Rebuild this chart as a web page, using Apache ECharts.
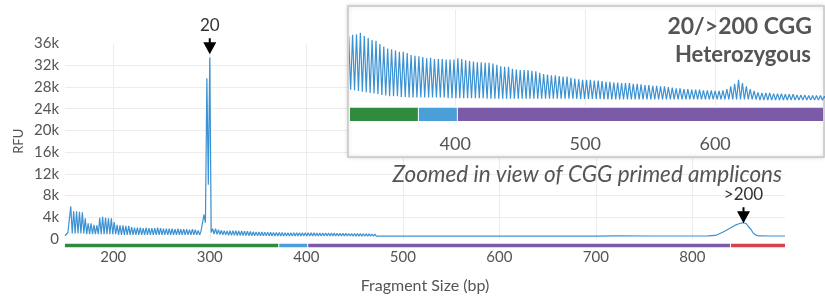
<!DOCTYPE html>
<html>
<head>
<meta charset="utf-8">
<script src="https://cdn.jsdelivr.net/npm/echarts@6/dist/echarts.min.js"></script>
<style>
  html, body { margin: 0; padding: 0; background: #fff; }
  #chart { width: 825px; height: 299px; }
</style>
</head>
<body>
<div id="chart"></div>
<script>
// CGG repeat ladder: one peak every 3 bp starting at 153 bp
var ladderStartBp = 153
var ladderStepBp = 3

// peak heights (RFU), one per repeat
var peakRfu = [
  1200, 6000, 5100, 5100, 5000, 4900, 3800, 2900, 2900, 2600, // 153-180
  2500, 3900, 4100, 3900, 3800, 3800, 3100, 2600, 2500, 2500, // 183-210
  2400, 2400, 2200, 2100, 2100, 2100, 2000, 2100, 2000, 2000, // 213-240
  2000, 2100, 2000, 1900, 1900, 1900, 1900, 1800, 1900, 1800, // 243-270
  1800, 1800, 1700, 1800, 1700, 1600, 1500, 4500, 29600, 33400, // 273-300
  1900, 1900, 1700, 1600, 1550, 1500, 1520, 1530, 1550, 1500, // 303-330
  1470, 1440, 1430, 1380, 1340, 1310, 1300, 1280, 1260, 1260, // 333-360
  1240, 1210, 1200, 1190, 1180, 1160, 1170, 1150, 1150, 1150, // 363-390
  1140, 1140, 1140, 1160, 1150, 1130, 1120, 1110, 1100, 1100, // 393-420
  1090, 1090, 1080, 1060, 1040, 1030, 1030, 1000, 990, 980,   // 423-450
  980, 980, 970, 960, 940, 920, 910, 900, 900, 890,           // 453-480
  880, 880, 860, 850, 840, 830, 830, 830, 820, 820,           // 483-510
  810, 800, 800, 790, 790, 780, 780, 780, 770, 770,           // 513-540
  760, 750, 750, 740, 740, 730, 730, 720, 710, 700,           // 543-570
  700, 690, 690, 680, 680, 680, 670, 670, 670, 660,           // 573-600
  660, 670, 690, 730, 770, 830, 780, 730, 690, 660,           // 603-630
  640, 630, 630, 630, 620, 620, 620, 610, 610, 610,           // 633-660
  600, 600, 600, 590, 590, 590, 590, 580, 580, 580,           // 663-690
  570, 570, 570                                               // 693-699
]

// valley after each peak (RFU)
var troughRfu = [
  1000, 1000, 1000, 1000, 1000, 1000, 900, 900, 900, 900,
  900, 900, 900, 900, 900, 900, 900, 750, 750, 750,
  750, 750, 750, 750, 750, 750, 750, 750, 750, 750,
  750, 750, 750, 750, 750, 750, 750, 750, 750, 750,
  750, 750, 750, 750, 750, 750, 1200, 3000, 10000, 1200,
  900, 850, 800, 780, 760, 680, 670, 660, 650, 640,
  630, 620, 610, 600, 590, 580, 580, 580, 570, 570,
  560, 560, 560, 560, 560, 560, 560, 560, 560, 560,
  550, 550, 550, 550, 550, 550, 550, 550, 550, 550,
  540, 540, 540, 540, 540, 540, 540, 540, 540, 540,
  540, 540, 540, 540, 540, 540, 540, 540, 540, 540,
  540, 540, 540, 540, 540, 540, 540, 540, 540, 540,
  530, 530, 530, 530, 530, 530, 530, 530, 530, 530,
  530, 530, 530, 530, 530, 530, 530, 530, 530, 530,
  530, 530, 530, 530, 530, 530, 530, 530, 530, 530,
  530, 530, 530, 530, 530, 530, 530, 530, 530, 530,
  520, 520, 520, 520, 520, 520, 520, 520, 520, 520,
  520, 520, 520, 520, 520, 520, 520, 520, 520, 520,
  520, 520, 530
]

// smooth tail with the >200 repeat peak
var tailBp  = [702, 720, 760, 800, 816, 824, 832, 838, 844, 849, 853, 856, 858, 861, 863, 866, 869, 880, 896]
var tailRfu = [560, 560, 550, 550, 560, 650, 1300, 1900, 2500, 2850, 3000, 2800, 2300, 1700, 1100, 700, 560, 550, 550]

// size-range bar under the trace
var segStartBp = [150, 372, 402, 840]
var segEndBp   = [372, 402, 840, 896]

// peak call arrows
var arrowBp   = [300, 853]
var arrowRfu  = [34000, 2900]
var arrowText = ['20', '>200']

var segColors = ['#2f8c3f', '#4a9fd9', '#7b5ba8', '#d7404e']
var font = 'Lato'
var txt = '#555'

var trace = [[150, 600]]
peakRfu.forEach(function (v, i) {
    var bp = ladderStartBp + i * ladderStepBp
    trace.push([bp, v])
    trace.push([bp + ladderStepBp / 2, troughRfu[i]])
})
tailBp.forEach(function (bp, i) {
    trace.push([bp, tailRfu[i]])
})

var segData = segStartBp.map(function (s, i) {
    return [s, segEndBp[i], i]
})

function renderSeg(params, api) {
    var a = api.coord([api.value(0), 1])
    var b = api.coord([api.value(1), 0])
    var idx = api.value(2)
    var gap = idx < segStartBp.length - 1 ? 1 : 0
    return {
        type: 'rect',
        shape: { x: a[0], y: a[1], width: b[0] - a[0] - gap, height: b[1] - a[1] },
        style: { fill: segColors[idx] }
    }
}

var chart = echarts.init(document.getElementById('chart'), null, { renderer: 'canvas' })

var option = {
    animation: false,
    textStyle: { fontFamily: font },
    grid: [
        { left: 65, right: 40, top: 43.5, height: 200.5 },   // main trace
        { left: 350, top: 10, width: 473, height: 96 },      // inset trace
        { left: 65, right: 40, top: 243.5, height: 4 },      // main size bar
        { left: 350, top: 107.5, width: 473, height: 13.5 }  // inset size bar
    ],
    xAxis: [
        {
            type: 'value', gridIndex: 0, min: 150, max: 896, splitNumber: 7,
            axisLine: { show: false }, axisTick: { show: false },
            axisLabel: { showMinLabel: false, showMaxLabel: false, margin: 11, fontSize: 15, color: txt, fontFamily: font },
            splitLine: { show: true, showMinLine: false, showMaxLine: false, lineStyle: { color: '#ececec' } },
            name: 'Fragment Size (bp)', nameLocation: 'middle', nameGap: 39,
            nameTextStyle: { fontSize: 16, color: txt, fontFamily: font }
        },
        {
            type: 'value', gridIndex: 1, min: 319, max: 683, z: 20,
            axisLine: { show: false }, axisTick: { show: false }, axisLabel: { show: false },
            splitLine: { show: true, showMinLine: false, showMaxLine: false, lineStyle: { color: '#ececec' } }
        },
        { type: 'value', gridIndex: 2, min: 150, max: 896, show: false },
        {
            type: 'value', gridIndex: 3, min: 319, max: 683, z: 20,
            axisLine: { show: false }, axisTick: { show: false }, splitLine: { show: false },
            axisLabel: { showMinLabel: false, showMaxLabel: false, margin: 14, fontSize: 18, color: txt, fontFamily: font }
        }
    ],
    yAxis: [
        {
            type: 'value', gridIndex: 0, min: 0, max: 36000, interval: 4000,
            axisLine: { show: false }, axisTick: { show: false },
            axisLabel: {
                margin: 6, fontSize: 15, color: txt, fontFamily: font,
                formatter: function (v) { return v === 0 ? '0' : v / 1000 + 'k' }
            },
            splitLine: { show: true, showMinLine: false, showMaxLine: false, lineStyle: { color: '#ececec' } },
            name: 'RFU', nameLocation: 'middle', nameGap: 40, nameMoveOverlap: false,
            nameTextStyle: { fontSize: 13, color: txt, fontFamily: font }
        },
        { type: 'value', gridIndex: 1, min: 430, max: 1900, show: false },
        { type: 'value', gridIndex: 2, min: 0, max: 1, show: false },
        { type: 'value', gridIndex: 3, min: 0, max: 1, show: false }
    ],
    series: [
        {
            type: 'line', xAxisIndex: 0, yAxisIndex: 0, data: trace,
            showSymbol: false, silent: true, z: 2,
            lineStyle: { color: '#3b92d3', width: 1.2 },
            markPoint: {
                symbol: 'path://M5.5,0 L7.5,0 L7.5,4 L13,4 L6.5,16 L0,4 L5.5,4 Z',
                symbolSize: [13, 16],
                symbolOffset: [0, '-50%'],
                itemStyle: { color: '#000' },
                label: {
                    show: true, position: 'top', distance: 4,
                    fontSize: 17, color: '#333', fontFamily: font,
                    formatter: function (p) { return p.name }
                },
                data: arrowBp.map(function (bp, i) {
                    return { name: arrowText[i], coord: [bp, arrowRfu[i]] }
                })
            }
        },
        {
            type: 'line', xAxisIndex: 1, yAxisIndex: 1, data: trace,
            showSymbol: false, silent: true, z: 21,
            lineStyle: { color: '#3b92d3', width: 1.2 }
        },
        {
            type: 'custom', xAxisIndex: 2, yAxisIndex: 2, data: segData,
            renderItem: renderSeg, clip: true, silent: true, z: 5
        },
        {
            type: 'custom', xAxisIndex: 3, yAxisIndex: 3, data: segData,
            renderItem: renderSeg, clip: true, silent: true, z: 21
        }
    ],
    graphic: [
        {
            type: 'rect', z: 10, silent: true,
            shape: { x: 348, y: 6, width: 476, height: 151 },
            style: { fill: '#fff', stroke: '#c6c6c6', lineWidth: 1.5, shadowBlur: 4, shadowColor: 'rgba(0,0,0,0.15)' }
        },
        {
            type: 'text', z: 30, silent: true, x: 812, y: 27,
            style: { text: '20/>200 CGG', fill: '#555', font: 'bold 23px Lato', align: 'right', verticalAlign: 'middle' }
        },
        {
            type: 'text', z: 30, silent: true, x: 811, y: 55,
            style: { text: 'Heterozygous', fill: '#555', font: 'bold 22px Lato', align: 'right', verticalAlign: 'middle' }
        },
        {
            type: 'text', z: 30, silent: true, x: 782, y: 175,
            style: { text: 'Zoomed in view of CGG primed amplicons', fill: '#555', font: 'italic 22.5px Lato', align: 'right', verticalAlign: 'middle' }
        }
    ]
}

chart.setOption(option)
</script>
</body>
</html>
